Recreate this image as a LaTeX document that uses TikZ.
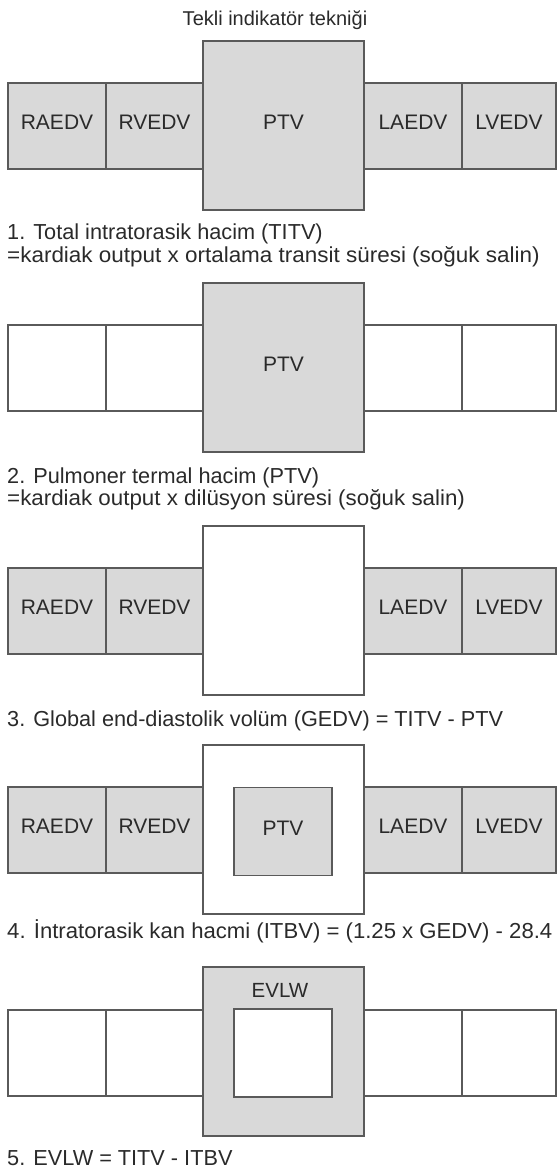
\documentclass[tikz,border=0pt]{standalone}
\usepackage{fontspec}
\setmainfont{Liberation Sans}
\definecolor{boxline}{HTML}{5A5A5A}
\definecolor{boxfill}{HTML}{D9D9D9}
\definecolor{ink}{HTML}{2A2A2A}
\begin{document}
\begin{tikzpicture}[x=1pt,y=-1pt,
  cell/.style={draw=boxline, line width=1.6pt, rectangle, inner sep=0pt,
    minimum height=86pt, text height=15pt, text depth=8pt,
    font=\fontsize{21}{25}\selectfont, text=ink},
  bigcell/.style={cell, minimum width=161pt, minimum height=169pt},
  innercell/.style={cell, minimum width=98pt, minimum height=88pt},
  grayfill/.style={fill=boxfill},
  whitefill/.style={fill=white},
  wa/.style={minimum width=98pt},
  wb/.style={minimum width=97pt},
  wd/.style={minimum width=94pt},
  formula/.style={anchor=base west, inner sep=0pt, font=\fontsize{21.7}{26}\selectfont, text=ink},
]
\useasboundingbox (0,0) rectangle (557,1171);

% title
\node[anchor=base, inner sep=0pt, font=\fontsize{20}{24}\selectfont, text=ink] (title) at (275,25) {Tekli indikatör tekniği};

% panel 1
\node[cell,grayfill,wa] (p1ra) at (57,126) {RAEDV};
\node[cell,grayfill,wb] (p1rv) at (154.5,126) {RVEDV};
\node[cell,grayfill,wa] (p1la) at (413,126) {LAEDV};
\node[cell,grayfill,wd] (p1lv) at (509,126) {LVEDV};
\node[bigcell,grayfill] (p1big) at (283.5,125.5) {PTV};
\node[formula] (t1a) at (7,239) {1. Total intratorasik hacim (TITV)};
\node[formula] (t1b) at (7,262) {\scalebox{1.035}[1]{=kardiak output x ortalama transit süresi (soğuk salin)}};

% panel 2
\node[cell,whitefill,wa] (p2ra) at (57,368) {};
\node[cell,whitefill,wb] (p2rv) at (154.5,368) {};
\node[cell,whitefill,wa] (p2la) at (413,368) {};
\node[cell,whitefill,wd] (p2lv) at (509,368) {};
\node[bigcell,grayfill] (p2big) at (283.5,367.5) {PTV};
\node[formula] (t2a) at (7,483) {2. Pulmoner termal hacim (PTV)};
\node[formula] (t2b) at (7,505) {\scalebox{1.03}[1]{=kardiak output x dilüsyon süresi (soğuk salin)}};

% panel 3
\node[cell,grayfill,wa] (p3ra) at (57,611) {RAEDV};
\node[cell,grayfill,wb] (p3rv) at (154.5,611) {RVEDV};
\node[cell,grayfill,wa] (p3la) at (413,611) {LAEDV};
\node[cell,grayfill,wd] (p3lv) at (509,611) {LVEDV};
\node[bigcell,whitefill] (p3big) at (283.5,610.5) {};
\node[formula] (t3) at (7,726) {3. Global end-diastolik volüm (GEDV) = TITV - PTV};

% panel 4
\node[cell,grayfill,wa] (p4ra) at (57,830) {RAEDV};
\node[cell,grayfill,wb] (p4rv) at (154.5,830) {RVEDV};
\node[cell,grayfill,wa] (p4la) at (413,830) {LAEDV};
\node[cell,grayfill,wd] (p4lv) at (509,830) {LVEDV};
\node[bigcell,whitefill] (p4big) at (283.5,829.5) {};
\node[innercell,grayfill] (p4in) at (283,831.5) {PTV};
\node[formula] (t4) at (7,938) {\scalebox{1.02}[1]{4. İntratorasik kan hacmi (ITBV) = (1.25 x GEDV) - 28.4}};

% panel 5
\node[cell,whitefill,wa] (p5ra) at (57,1053) {};
\node[cell,whitefill,wb] (p5rv) at (154.5,1053) {};
\node[cell,whitefill,wa] (p5la) at (413,1053) {};
\node[cell,whitefill,wd] (p5lv) at (509,1053) {};
\node[bigcell,grayfill] (p5big) at (283.5,1051.5) {};
\node[innercell,whitefill] (p5in) at (283,1053) {};
\node[anchor=base, inner sep=0pt, font=\fontsize{20.5}{24}\selectfont, text=ink] (p5lbl) at (280,997.5) {EVLW};
\node[formula] (t5) at (7,1165) {5. EVLW = TITV - ITBV};
\end{tikzpicture}
\end{document}
